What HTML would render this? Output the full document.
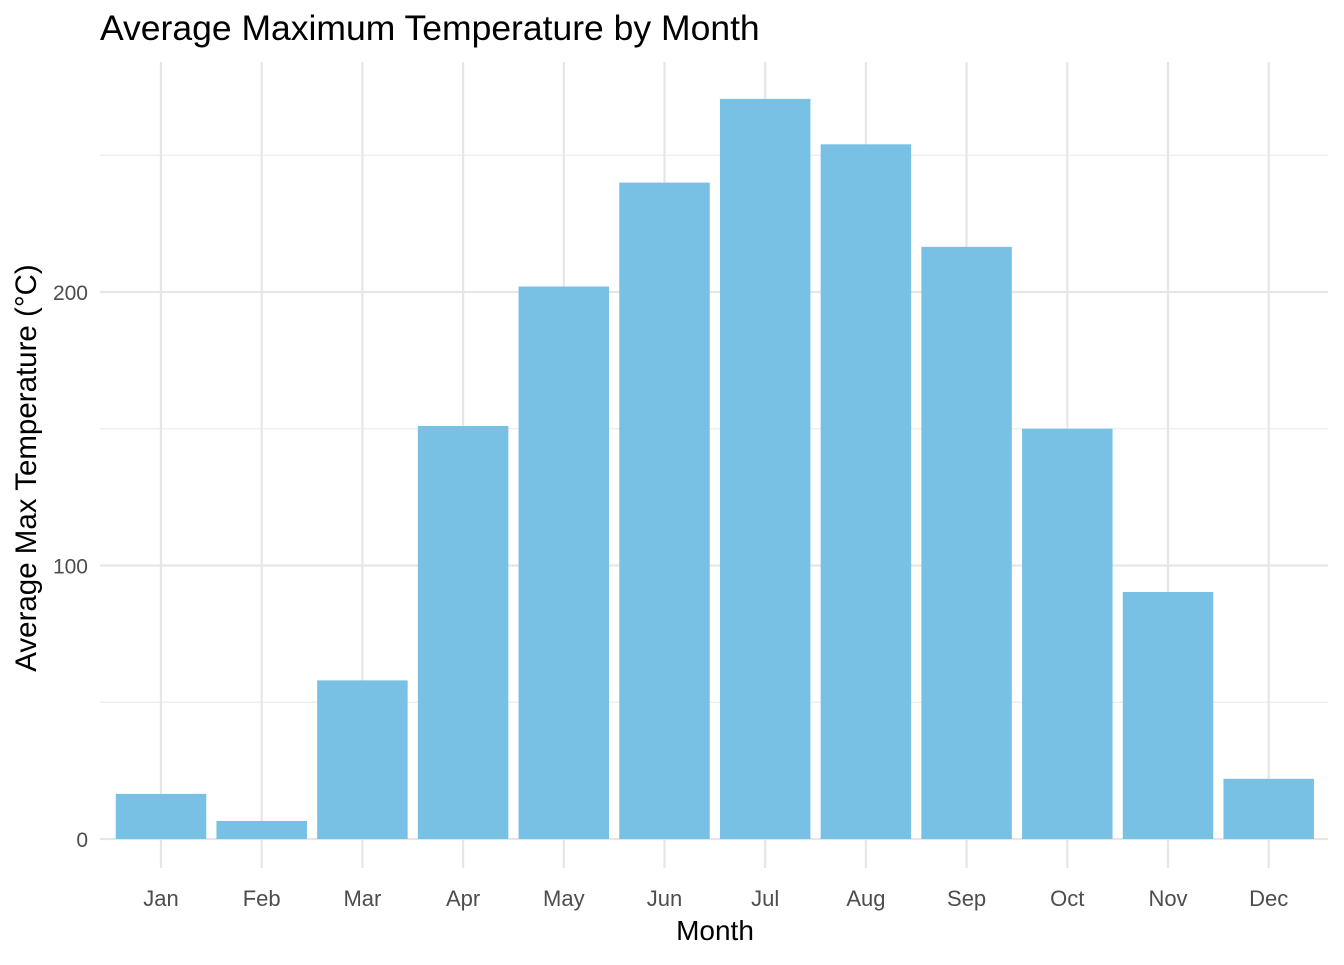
<!DOCTYPE html>
<html><head><meta charset="utf-8"><style>
html,body{margin:0;padding:0;background:#fff;}
svg text{font-family:"Liberation Sans",Arial,sans-serif;}
</style></head><body>
<svg id="chart" width="1344" height="960" xmlns="http://www.w3.org/2000/svg">
<rect width="1344" height="960" fill="#fff"/>
<text x="100" y="40" font-size="35.5" fill="#000">Average Maximum Temperature by Month</text>
<g id="grid"></g>
<g id="bars"></g>
<g id="labels"></g>
<text x="715" y="940" font-size="28" text-anchor="middle" fill="#000">Month</text>
<text transform="translate(36,468) rotate(-90)" font-size="29.5" text-anchor="middle" fill="#000">Average Max Temperature (°C)</text>
</svg>
<script>
const months=["Jan","Feb","Mar","Apr","May","Jun","Jul","Aug","Sep","Oct","Nov","Dec"];
const values=[16.5,6.6,58,151,202,240,270.6,254,216.5,150,90.3,22];
const yTicks=[0,100,200];
const yMinor=[50,150,250];
const NS="http://www.w3.org/2000/svg";
const pLeft=100,pRight=1328,pTop=62,pBottom=868;
const y=v=>839-v*2.735;
const x=i=>161+i*100.7;
const bw=90.5;
function el(tag,attrs,parent){const e=document.createElementNS(NS,tag);for(const k in attrs)e.setAttribute(k,attrs[k]);parent.appendChild(e);return e;}
const grid=document.getElementById('grid'),bars=document.getElementById('bars'),labels=document.getElementById('labels');
yMinor.forEach(v=>{const l=el('line',{x1:pLeft,x2:pRight,y1:y(v),y2:y(v),stroke:'#ebebeb','stroke-width':1.2},grid);

});
yTicks.forEach(v=>{const l=el('line',{x1:pLeft,x2:pRight,y1:y(v),y2:y(v),stroke:'#e6e6e6','stroke-width':2.2},grid);


const t=el('text',{x:88,y:y(v)+8,'font-size':21,'text-anchor':'end',fill:'#4d4d4d'},labels);t.textContent=v;

});
months.forEach((m,i)=>{const l=el('line',{x1:x(i),x2:x(i),y1:pTop,y2:pBottom,stroke:'#e6e6e6','stroke-width':2.2},grid);


const r=el('rect',{x:x(i)-bw/2,y:y(values[i]),width:bw,height:y(0)-y(values[i]),fill:'#78c1e4'},bars);


const t=el('text',{x:x(i),y:906,'font-size':22,'text-anchor':'middle',fill:'#4d4d4d'},labels);t.textContent=m;

});
</script>
</body></html>
